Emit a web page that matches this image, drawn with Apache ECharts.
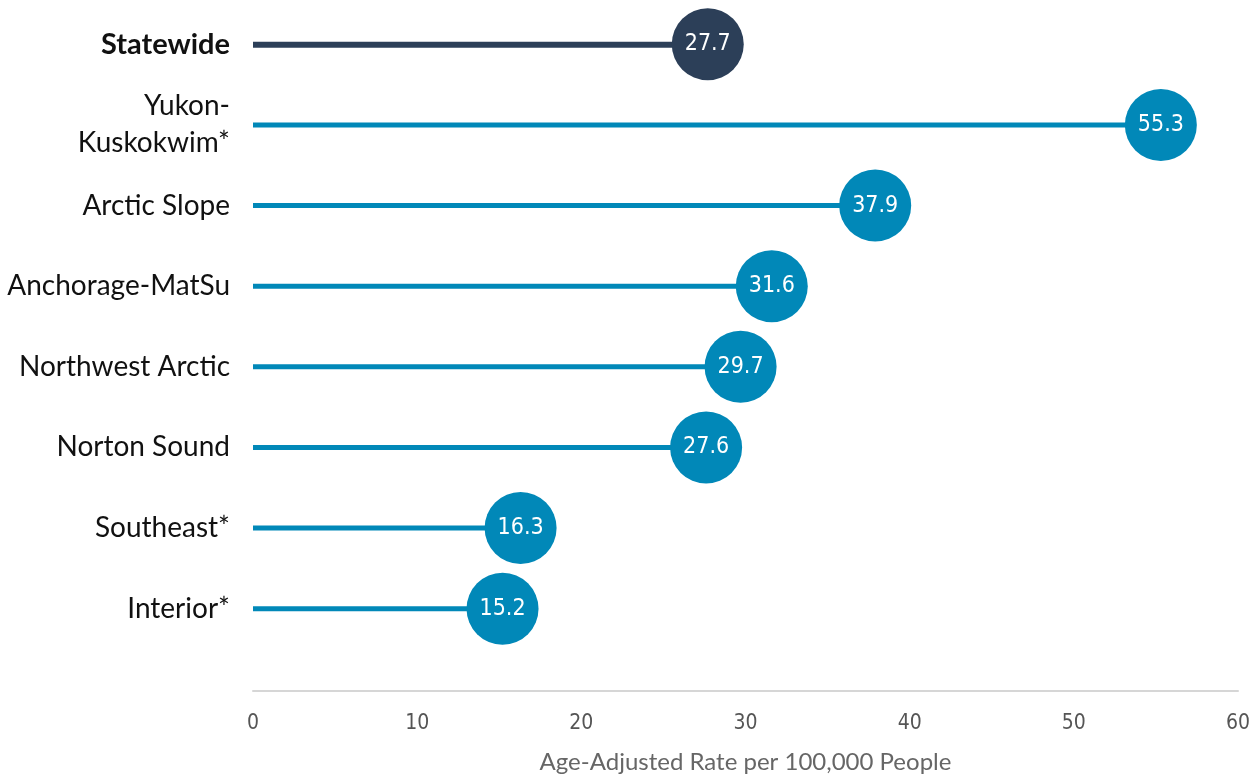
<!DOCTYPE html>
<html>
<head>
<meta charset="utf-8">
<script src="https://cdn.jsdelivr.net/npm/echarts@6/dist/echarts.min.js"></script>
<style>
html, body { margin: 0; padding: 0; background: #fff; }
#chart { width: 1255px; height: 777px; }
</style>
</head>
<body>
<div id="chart"></div>
<script>
// regions, top to bottom
var regions = ['Statewide', 'Yukon-\nKuskokwim*', 'Arctic Slope', 'Anchorage-MatSu',
	'Northwest Arctic', 'Norton Sound', 'Southeast*', 'Interior*'];
var rates = [27.7, 55.3, 37.9, 31.6, 29.7, 27.6, 16.3, 15.2];
var xTicks = [0, 10, 20, 30, 40, 50, 60];

var DARK = '#2c3f58';
var BLUE = '#0188b8';
var NARROW = '"DejaVu Sans Condensed", "Liberation Sans Narrow", Roboto, sans-serif';

var chart = echarts.init(document.getElementById('chart'));

// statewide stem is a bit thicker, so it gets its own bar series
var stateStem = rates.map(function(v, i) { return i === 0 ? v : null; });
var regionStem = rates.map(function(v, i) { return i === 0 ? null : v; });
var dotData = rates.map(function(v, i) {
	return {
		value: [v, regions[i]],
		itemStyle: { color: i === 0 ? DARK : BLUE, opacity: 1 }
	};
});

var option = {
	animation: false,
	grid: { left: 253, right: 17, top: 4, bottom: 128, outerBoundsMode: 'none', containLabel: false },
	xAxis: {
		type: 'value',
		min: xTicks[0],
		max: xTicks[xTicks.length - 1],
		interval: 10,
		offset: 42,
		name: 'Age-Adjusted Rate per 100,000 People',
		nameLocation: 'middle',
		nameGap: 59,
		nameTextStyle: { color: '#666', fontSize: 24, fontFamily: 'Lato, sans-serif' },
		axisLine: { show: true, lineStyle: { color: '#d6d6d6', width: 2 } },
		axisTick: { show: false },
		splitLine: { show: false },
		axisLabel: {
			color: '#555',
			fontSize: 21,
			margin: 22,
			fontFamily: NARROW
		}
	},
	yAxis: {
		type: 'category',
		inverse: true,
		data: regions,
		axisLine: { show: false },
		axisTick: { show: false },
		axisLabel: {
			margin: 23,
			color: '#111',
			fontSize: 28,
			lineHeight: 37,
			fontFamily: 'Lato, sans-serif',
			formatter: function(v) {
				return v === 'Statewide' ? '{b|' + v + '}' : v;
			},
			rich: {
				b: { fontWeight: 'bold', fontSize: 29, color: '#111', fontFamily: 'Lato, sans-serif' }
			}
		}
	},
	series: [{
		type: 'bar',
		data: stateStem,
		barWidth: 6,
		itemStyle: { color: DARK },
		silent: true
	}, {
		type: 'bar',
		data: regionStem,
		barWidth: 5,
		barGap: '-100%',
		itemStyle: { color: BLUE },
		silent: true
	}, {
		type: 'scatter',
		data: dotData,
		symbolSize: 72,
		label: {
			show: true,
			position: 'inside',
			color: '#fff',
			fontSize: 23,
			fontFamily: NARROW,
			formatter: function(p) { return p.value[0].toFixed(1); }
		},
		emphasis: { disabled: true },
		z: 3
	}]
};

chart.setOption(option);
</script>
</body>
</html>
